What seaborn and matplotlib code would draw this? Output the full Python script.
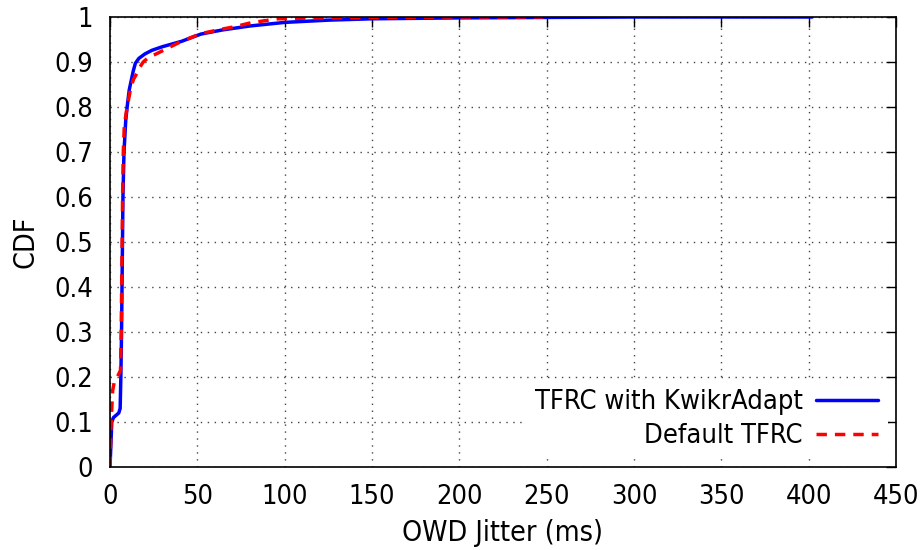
import matplotlib
matplotlib.use("Agg")
import matplotlib.pyplot as plt
import seaborn as sns
import pandas as pd

# Empirical CDF points of one-way-delay jitter (ms)
kwikr_x = [0, 0.3, 1.0, 2.0, 3.5, 5.0, 5.8, 6.2, 6.6, 7.0, 7.4, 8.0, 9.0, 9.8,
           11.0, 12.2, 13.3, 14.5, 16.5, 20, 24, 30, 41, 52, 64, 80, 100, 125,
           150, 200, 250, 300, 402]
kwikr_y = [0, 0.03, 0.10, 0.11, 0.115, 0.12, 0.13, 0.2, 0.3, 0.45, 0.6, 0.7,
           0.77, 0.80, 0.838, 0.86, 0.88, 0.897, 0.908, 0.918, 0.926, 0.934,
           0.946, 0.962, 0.971, 0.980, 0.988, 0.993, 0.996, 0.998, 0.999, 1.0,
           1.0]

default_x = [0, 0.5, 1.0, 1.5, 2.5, 4.2, 6.0, 6.4, 6.8, 7.2, 7.6, 8.2, 9.8,
             12.0, 13.5, 15.4, 17, 19, 22, 27, 32.6, 41, 52, 64, 71, 80.5, 96,
             120, 150, 200, 248]
default_y = [0, 0.08, 0.13, 0.17, 0.19, 0.2, 0.215, 0.3, 0.45, 0.6, 0.7,
             0.76, 0.80, 0.845, 0.862, 0.875, 0.888, 0.90, 0.910, 0.919, 0.930,
             0.946, 0.963, 0.973, 0.978, 0.987, 0.996, 0.998, 0.999, 1.0, 1.0]

series_names = ["TFRC with KwikrAdapt", "Default TFRC"]
x_ticks = [0, 50, 100, 150, 200, 250, 300, 350, 400, 450]
y_ticks = [0, 0.1, 0.2, 0.3, 0.4, 0.5, 0.6, 0.7, 0.8, 0.9, 1]
y_tick_labels = ["0", "0.1", "0.2", "0.3", "0.4", "0.5", "0.6", "0.7", "0.8", "0.9", "1"]

df = pd.concat([
    pd.DataFrame({"jitter": kwikr_x, "cdf": kwikr_y, "series": series_names[0]}),
    pd.DataFrame({"jitter": default_x, "cdf": default_y, "series": series_names[1]}),
], ignore_index=True)

sns.set_theme(style="white")
plt.rcParams["font.family"] = ["DejaVu Sans"]
plt.rcParams["font.stretch"] = "condensed"
plt.rcParams["text.color"] = "black"
plt.rcParams["axes.labelcolor"] = "black"

FS = 19.5

fig = plt.figure(figsize=(9.23, 5.5), dpi=100)
ax = fig.add_axes([0.1192, 0.1509, 0.8515, 0.8182])

sns.lineplot(data=df, x="jitter", y="cdf", hue="series", style="series",
             palette={series_names[0]: "#0000ff", series_names[1]: "#ff0000"},
             dashes={series_names[0]: "", series_names[1]: (3, 2.3)},
             estimator=None, sort=False, linewidth=2.5, ax=ax, zorder=3)

ax.set_xlim(0, 450)
ax.set_ylim(0, 1)
ax.set_xticks(x_ticks)
ax.set_yticks(y_ticks)
ax.set_yticklabels(y_tick_labels)

ax.grid(True, linestyle=(0, (1, 4)), color="#444444", linewidth=1.0, zorder=0)
ax.set_axisbelow(True)

for sp in ax.spines.values():
    sp.set_color("black")
    sp.set_linewidth(1.2)
    sp.set_zorder(5)

ax.tick_params(axis="both", which="major", direction="in", length=7, width=1,
               top=True, right=True, labelsize=FS, colors="black")
ax.tick_params(axis="y", pad=12)
ax.tick_params(axis="x", pad=12)

ax.set_xlabel("OWD Jitter (ms)", fontsize=FS + 1, labelpad=7)
ax.set_ylabel("CDF", fontsize=FS + 1, labelpad=11)

leg = ax.legend(loc="lower right", frameon=True, markerfirst=False, fontsize=FS,
                handlelength=2.3, handletextpad=0.5, labelspacing=0.3,
                borderaxespad=0.3, borderpad=0.35, fancybox=False)
leg.get_frame().set_facecolor("white")
leg.get_frame().set_edgecolor("none")
leg.get_frame().set_alpha(1.0)
for h in leg.get_lines():
    h.set_linewidth(2.5)
leg.set_zorder(4)

fig.savefig("out.png", dpi=100)
